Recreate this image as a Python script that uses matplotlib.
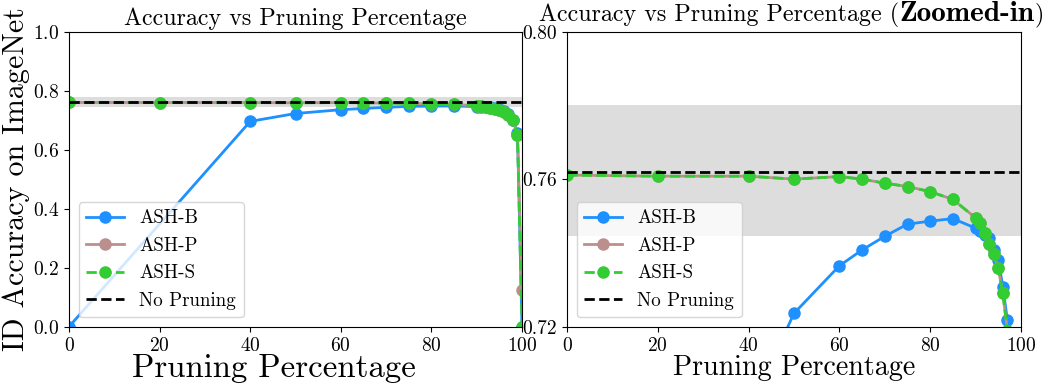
import matplotlib
matplotlib.use("Agg")
import matplotlib.pyplot as plt

plt.rcParams['font.family'] = ['cmr10', 'DejaVu Serif']
plt.rcParams['mathtext.fontset'] = 'cm'
plt.rcParams['axes.formatter.use_mathtext'] = True

# ---------------- data ----------------
x_b = [0, 40, 50, 60, 65, 70, 75, 80, 85, 90, 91, 92, 93, 94, 95, 96, 97, 98, 99, 100]
ash_b = [0.001, 0.697, 0.7237, 0.7366, 0.7409, 0.7446, 0.7479, 0.7487, 0.7494, 0.7468,
         0.7460, 0.7450, 0.7441, 0.7410, 0.7382, 0.7309, 0.7219, 0.703, 0.657, 0.001]

x_s = [0, 20, 40, 50, 60, 65, 70, 75, 80, 85, 90, 91, 92, 93, 94, 95, 96, 97, 98, 99, 100]
ash_p = [0.7612, 0.7609, 0.7609, 0.7601, 0.7608, 0.7601, 0.7590, 0.7581, 0.7567, 0.7546,
         0.7496, 0.7483, 0.7454, 0.7425, 0.7397, 0.7359, 0.7291, 0.7190, 0.702, 0.651, 0.125]
ash_s = [0.7612, 0.7609, 0.7609, 0.7601, 0.7608, 0.7601, 0.7590, 0.7581, 0.7567, 0.7546,
         0.7496, 0.7483, 0.7454, 0.7425, 0.7397, 0.7359, 0.7291, 0.7190, 0.702, 0.651, 0.001]

no_pruning = 0.7620
band_low, band_high = 0.7447, 0.7802

xticks = [0, 20, 40, 60, 80, 100]
left_yticks = [0.0, 0.2, 0.4, 0.6, 0.8, 1.0]
right_yticks = [0.72, 0.76, 0.80]

# ---------------- figure ----------------
fig = plt.figure(figsize=(10.51, 3.84), dpi=100)
W, H = 1051, 384
ax1 = fig.add_axes([69 / W, (H - 327) / H, 453 / W, 295 / H])
ax2 = fig.add_axes([567 / W, (H - 327) / H, 454 / W, 295 / H])

C_B = '#1E90FF'
C_P = '#BC8F8F'
C_S = '#32CD32'

for ax in (ax1, ax2):
    ax.axhspan(band_low, band_high, color='#DDDDDD', lw=0, zorder=0.5)
    hB, = ax.plot(x_b, ash_b, '-o', color=C_B, lw=2, ms=8, label='ASH-B')
    hP, = ax.plot(x_s, ash_p, '-o', color=C_P, lw=2, ms=8, label='ASH-P')
    hS, = ax.plot(x_s, ash_s, '--o', color=C_S, lw=2, ms=8, label='ASH-S')
    hN = ax.axhline(no_pruning, color='black', ls='--', lw=2, label='No Pruning')
    ax.set_xlim(0, 100)
    ax.set_xticks(xticks)
    ax.tick_params(labelsize=14)
    ax.legend(handles=[hB, hP, hS, hN], loc='lower left', fontsize=13.7)

ax1.set_xlabel('Pruning Percentage', fontsize=23.6)
ax1.xaxis.set_label_coords(0.4525, -0.092, transform=ax1.transAxes)
ax1.xaxis.label.set_va('top')
ax2.set_xlabel('Pruning Percentage', fontsize=20.2)
ax2.xaxis.set_label_coords(0.5, -0.095, transform=ax2.transAxes)
ax2.xaxis.label.set_va('top')

ax1.set_ylim(0, 1.0)
ax1.set_yticks(left_yticks)
ax1.set_ylabel('ID Accuracy on ImageNet', fontsize=21.6, labelpad=2)
ax1.set_title('Accuracy vs Pruning Percentage', fontsize=17.3, pad=5)

ax2.set_ylim(0.72, 0.80)
ax2.set_yticks(right_yticks)
ax2.set_yticklabels(['0.72', '0.76', '0.80'])

# mixed-weight title for right axes
t1 = ax2.text(0.5, 1.0, 'Accuracy vs Pruning Percentage (', transform=ax2.transAxes,
              fontsize=17.3, ha='left', va='bottom')
t2 = ax2.annotate('Zoomed-in', xy=(1, 0), xycoords=t1, ha='left', va='bottom',
                  fontsize=21, family='cmb10')
t3 = ax2.annotate(')', xy=(1, 0), xycoords=t2, ha='left', va='bottom', fontsize=17.3)
fig.canvas.draw()
r = fig.canvas.get_renderer()
bb1 = t1.get_window_extent(r)
bb3 = t3.get_window_extent(r)
total = bb3.x1 - bb1.x0
axbb = ax2.get_window_extent(r)
cx = (axbb.x0 + axbb.x1) / 2 - 2.5
start = cx - total / 2
ypix = axbb.y1 + 5
t1.set_transform(matplotlib.transforms.IdentityTransform())
t1.set_position((start, ypix))

fig.savefig('out.png', dpi=100)
